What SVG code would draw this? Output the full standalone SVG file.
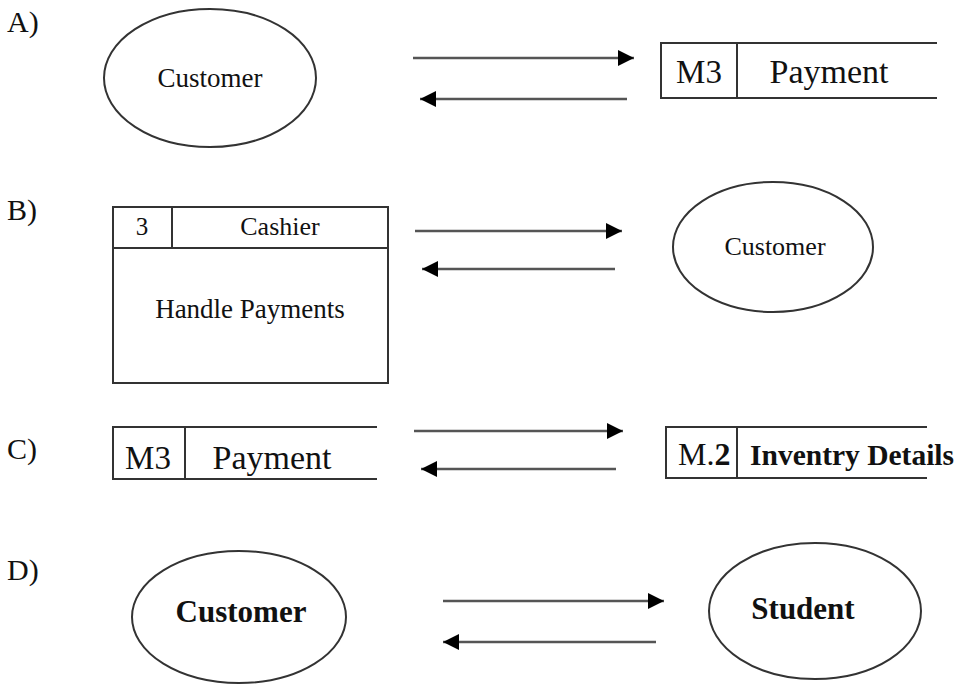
<svg xmlns="http://www.w3.org/2000/svg" width="961" height="691" viewBox="0 0 961 691">
<style>
text{font-family:"Liberation Serif","Times New Roman",serif;fill:#111}
.lbl{font-size:30px}
.shape{fill:none;stroke:#333;stroke-width:2}
.flow{stroke:#555;stroke-width:2.5;fill:none}
.b{font-weight:bold}
</style>
<defs>
<marker id="ah" markerUnits="userSpaceOnUse" markerWidth="17" markerHeight="16" refX="16" refY="8" orient="auto">
<path d="M0,0 L16,8 L0,16 z" fill="#000"/>
</marker>
</defs>
<rect width="961" height="691" fill="#fff"/>
<g id="labels">
<text class="lbl" x="7" y="32">A)</text>
<text class="lbl" x="7" y="220">B)</text>
<text class="lbl" x="7" y="459">C)</text>
<text class="lbl" x="7" y="580">D)</text>
</g>
<g id="a-customer">
<ellipse class="shape" cx="210" cy="78" rx="106" ry="69"/>
<text x="210" y="87" font-size="27" text-anchor="middle">Customer</text>
</g>
<g id="a-payment">
<path class="shape" d="M937,43 H661 V98 H937 M737,43 V98"/>
<text x="699" y="83" font-size="33" text-anchor="middle">M3</text>
<text x="829" y="83" font-size="34" text-anchor="middle">Payment</text>
</g>
<g id="b-cashier">
<rect class="shape" x="113" y="207" width="275" height="176"/>
<path class="shape" d="M113,248 H388 M172,207 V248"/>
<text x="142" y="235" font-size="25" text-anchor="middle">3</text>
<text x="280" y="235" font-size="26" text-anchor="middle">Cashier</text>
<text x="250" y="318" font-size="27" text-anchor="middle">Handle Payments</text>
</g>
<g id="b-customer">
<ellipse class="shape" cx="773" cy="247" rx="100" ry="65"/>
<text x="775" y="255" font-size="26" text-anchor="middle">Customer</text>
</g>
<g id="c-payment">
<path class="shape" d="M377,427 H113 V479 H377 M185,427 V479"/>
<text x="148" y="469" font-size="33" text-anchor="middle">M3</text>
<text x="272" y="469" font-size="34" text-anchor="middle">Payment</text>
</g>
<g id="c-inventry">
<path class="shape" d="M927,427 H666 V478 H927 M737,427 V478"/>
<text x="678" y="465" font-size="32">M<tspan>.</tspan><tspan class="b">2</tspan></text>
<text x="750" y="465" font-size="30" class="b" textLength="204" lengthAdjust="spacingAndGlyphs">Inventry Details</text>
</g>
<g id="d-customer">
<ellipse class="shape" cx="239" cy="617" rx="107" ry="66"/>
<text x="241" y="622" font-size="31" class="b" text-anchor="middle">Customer</text>
</g>
<g id="d-student">
<ellipse class="shape" cx="815" cy="611" rx="106" ry="68"/>
<text x="803" y="619" font-size="31" class="b" text-anchor="middle">Student</text>
</g>
<g id="connectors">
<line class="flow" x1="413" y1="58" x2="634" y2="58" marker-end="url(#ah)"/>
<line class="flow" x1="627" y1="99" x2="420" y2="99" marker-end="url(#ah)"/>
<line class="flow" x1="415" y1="231" x2="622" y2="231" marker-end="url(#ah)"/>
<line class="flow" x1="615" y1="269" x2="422" y2="269" marker-end="url(#ah)"/>
<line class="flow" x1="414" y1="431" x2="623" y2="431" marker-end="url(#ah)"/>
<line class="flow" x1="616" y1="469" x2="421" y2="469" marker-end="url(#ah)"/>
<line class="flow" x1="443" y1="601" x2="664" y2="601" marker-end="url(#ah)"/>
<line class="flow" x1="656" y1="642" x2="443" y2="642" marker-end="url(#ah)"/>
</g>
</svg>
